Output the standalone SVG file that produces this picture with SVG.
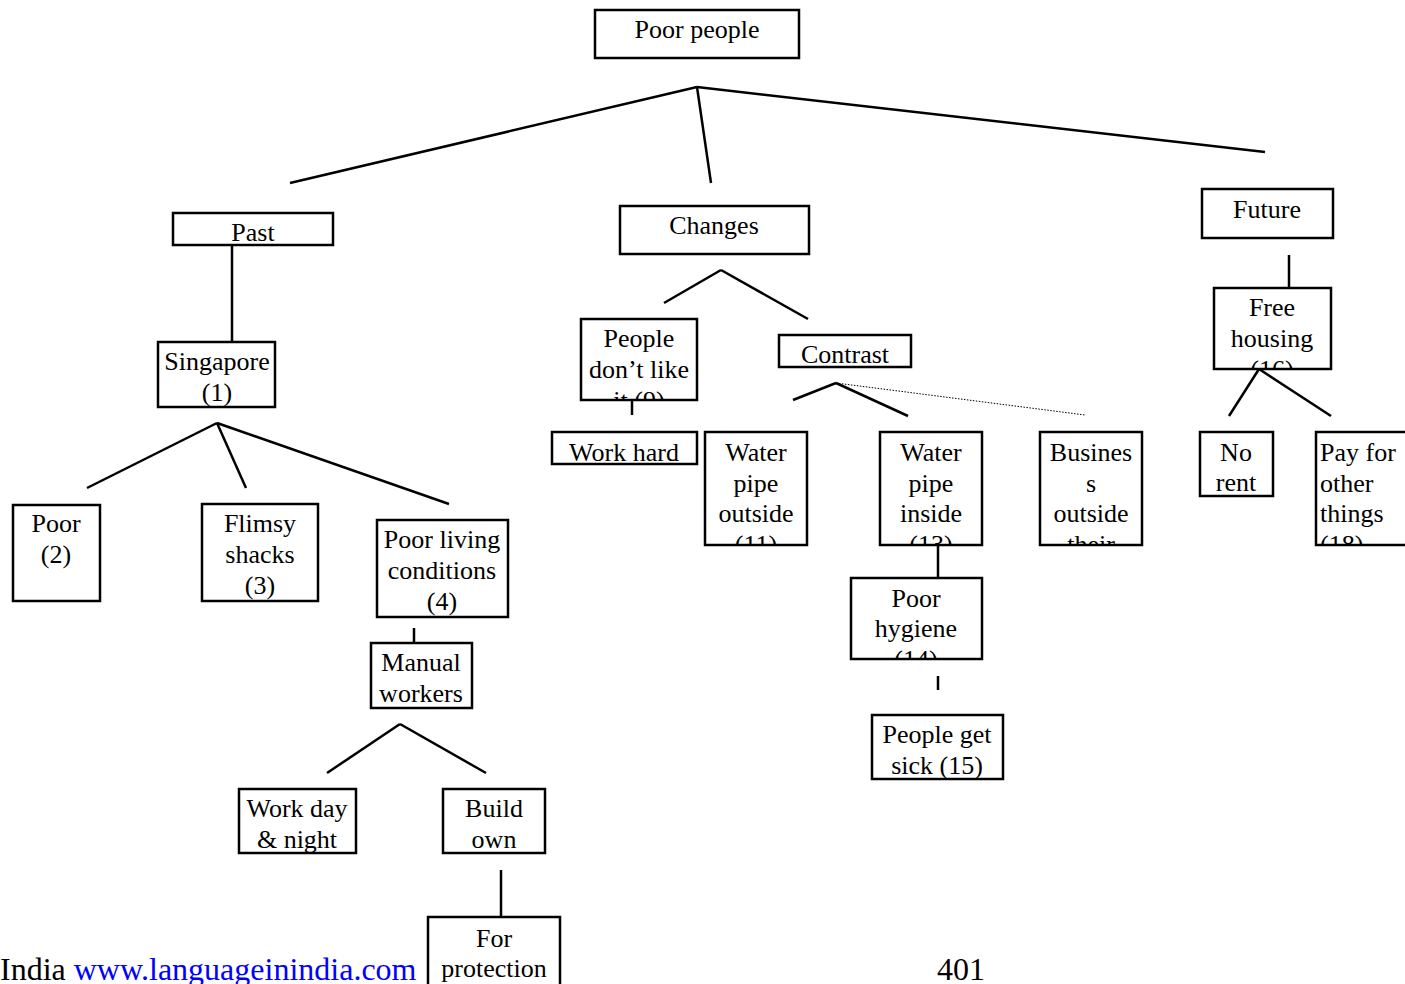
<svg xmlns="http://www.w3.org/2000/svg" width="1405" height="984" viewBox="0 0 1405 984">
<style>
.box{fill:#fff;stroke:#000;stroke-width:2.5}
.t{font-family:"Liberation Serif","Times New Roman",serif;font-size:26px;fill:#000;text-anchor:middle}
.l{text-anchor:start}
.c line{stroke:#000;stroke-width:2.5}
.foot{font-family:"Liberation Serif","Times New Roman",serif;font-size:32px}
</style>
<defs>
<clipPath id="cp9"><rect x="581" y="319" width="116" height="81"/></clipPath>
<clipPath id="cp11"><rect x="705" y="432" width="102" height="113"/></clipPath>
<clipPath id="cp13"><rect x="880" y="432" width="102" height="113"/></clipPath>
<clipPath id="cpB"><rect x="1040" y="432" width="102" height="113"/></clipPath>
<clipPath id="cp14"><rect x="851" y="578" width="131" height="81"/></clipPath>
<clipPath id="cp16"><rect x="1214" y="288" width="117" height="81"/></clipPath>
<clipPath id="cp18"><rect x="1316" y="432" width="100" height="113"/></clipPath>
</defs>
<rect width="1405" height="984" fill="#fff"/>
<g id="connectors" class="c">
<line x1="697" y1="87" x2="290" y2="183"/>
<line x1="697" y1="87" x2="711" y2="183"/>
<line x1="697" y1="87" x2="1265" y2="152"/>
<line x1="232" y1="245" x2="232" y2="342"/>
<line x1="217" y1="423" x2="87" y2="488"/>
<line x1="217" y1="423" x2="246" y2="488"/>
<line x1="217" y1="423" x2="449" y2="504"/>
<line x1="414" y1="628" x2="414" y2="643"/>
<line x1="400" y1="724" x2="327" y2="773"/>
<line x1="400" y1="724" x2="486" y2="773"/>
<line x1="501" y1="870" x2="501" y2="917"/>
<line x1="721" y1="270" x2="664" y2="303"/>
<line x1="721" y1="270" x2="808" y2="319"/>
<line x1="632" y1="401" x2="632" y2="415"/>
<line x1="836" y1="383" x2="793" y2="400"/>
<line x1="836" y1="383" x2="908" y2="416"/>
<line x1="836" y1="383" x2="1085" y2="415" style="stroke-width:1;stroke-dasharray:1.5 1.5"/>
<line x1="938" y1="545" x2="938" y2="578"/>
<line x1="938" y1="676" x2="938" y2="690"/>
<line x1="1289" y1="255" x2="1289" y2="288"/>
<line x1="1259" y1="369" x2="1229" y2="416"/>
<line x1="1259" y1="369" x2="1331" y2="416"/>
</g>
<g id="n-poor-people"><rect class="box" x="595" y="10" width="204" height="48"/><text class="t" x="697" y="38">Poor people</text></g>
<g id="n-past"><rect class="box" x="173" y="213" width="160" height="32"/><text class="t" x="253" y="241">Past</text></g>
<g id="n-singapore"><rect class="box" x="158" y="342" width="117" height="65"/><text class="t" x="217" y="370">Singapore</text><text class="t" x="217" y="401">(1)</text></g>
<g id="n-poor2"><rect class="box" x="13" y="505" width="87" height="96"/><text class="t" x="56" y="532">Poor</text><text class="t" x="56" y="563">(2)</text></g>
<g id="n-flimsy"><rect class="box" x="202" y="504" width="116" height="97"/><text class="t" x="260" y="532">Flimsy</text><text class="t" x="260" y="563">shacks</text><text class="t" x="260" y="594">(3)</text></g>
<g id="n-living"><rect class="box" x="377" y="520" width="131" height="97"/><text class="t" x="442" y="548">Poor living</text><text class="t" x="442" y="579">conditions</text><text class="t" x="442" y="610">(4)</text></g>
<g id="n-manual"><rect class="box" x="371" y="643" width="101" height="65"/><text class="t" x="421" y="671">Manual</text><text class="t" x="421" y="702">workers</text></g>
<g id="n-workday"><rect class="box" x="239" y="789" width="117" height="64"/><text class="t" x="297" y="817">Work day</text><text class="t" x="297" y="848">&amp; night</text></g>
<g id="n-build"><rect class="box" x="443" y="789" width="102" height="64"/><text class="t" x="494" y="817">Build</text><text class="t" x="494" y="848">own</text></g>
<g id="n-protection"><rect class="box" x="428" y="917" width="132" height="70"/><text class="t" x="494" y="947">For</text><text class="t" x="494" y="977">protection</text></g>
<g id="n-changes"><rect class="box" x="620" y="206" width="189" height="48"/><text class="t" x="714" y="234">Changes</text></g>
<g id="n-dontlike"><rect class="box" x="581" y="319" width="116" height="81"/><g clip-path="url(#cp9)"><text class="t" x="639" y="347">People</text><text class="t" x="639" y="378">don’t like</text><text class="t" x="639" y="409">it (9)</text></g></g>
<g id="n-workhard"><rect class="box" x="552" y="432" width="145" height="32"/><text class="t" x="624" y="461">Work hard</text></g>
<g id="n-contrast"><rect class="box" x="779" y="335" width="132" height="32"/><text class="t" x="845" y="363">Contrast</text></g>
<g id="n-outside"><rect class="box" x="705" y="432" width="102" height="113"/><g clip-path="url(#cp11)"><text class="t" x="756" y="461">Water</text><text class="t" x="756" y="492">pipe</text><text class="t" x="756" y="522">outside</text><text class="t" x="756" y="553">(11)</text></g></g>
<g id="n-inside"><rect class="box" x="880" y="432" width="102" height="113"/><g clip-path="url(#cp13)"><text class="t" x="931" y="461">Water</text><text class="t" x="931" y="492">pipe</text><text class="t" x="931" y="522">inside</text><text class="t" x="931" y="553">(13)</text></g></g>
<g id="n-business"><rect class="box" x="1040" y="432" width="102" height="113"/><g clip-path="url(#cpB)"><text class="t" x="1091" y="461">Busines</text><text class="t" x="1091" y="492">s</text><text class="t" x="1091" y="522">outside</text><text class="t" x="1091" y="553">their</text></g></g>
<g id="n-hygiene"><rect class="box" x="851" y="578" width="131" height="81"/><g clip-path="url(#cp14)"><text class="t" x="916" y="607">Poor</text><text class="t" x="916" y="637">hygiene</text><text class="t" x="916" y="668">(14)</text></g></g>
<g id="n-sick"><rect class="box" x="872" y="715" width="131" height="64"/><text class="t" x="937" y="743">People get</text><text class="t" x="937" y="774">sick (15)</text></g>
<g id="n-future"><rect class="box" x="1202" y="189" width="131" height="49"/><text class="t" x="1267" y="218">Future</text></g>
<g id="n-free"><rect class="box" x="1214" y="288" width="117" height="81"/><g clip-path="url(#cp16)"><text class="t" x="1272" y="316">Free</text><text class="t" x="1272" y="347">housing</text><text class="t" x="1272" y="378">(16)</text></g></g>
<g id="n-norent"><rect class="box" x="1200" y="432" width="73" height="64"/><text class="t" x="1236" y="461">No</text><text class="t" x="1236" y="491">rent</text></g>
<g id="n-payfor"><rect class="box" x="1316" y="432" width="100" height="113"/><g clip-path="url(#cp18)"><text class="t l" x="1320" y="461">Pay for</text><text class="t l" x="1320" y="492">other</text><text class="t l" x="1320" y="522">things</text><text class="t l" x="1320" y="553">(18)</text></g></g>
<text class="foot" x="0" y="980">India <tspan fill="#0000ff">www.languageinindia.com</tspan></text>
<text class="foot" x="937" y="980">401</text>
</svg>
